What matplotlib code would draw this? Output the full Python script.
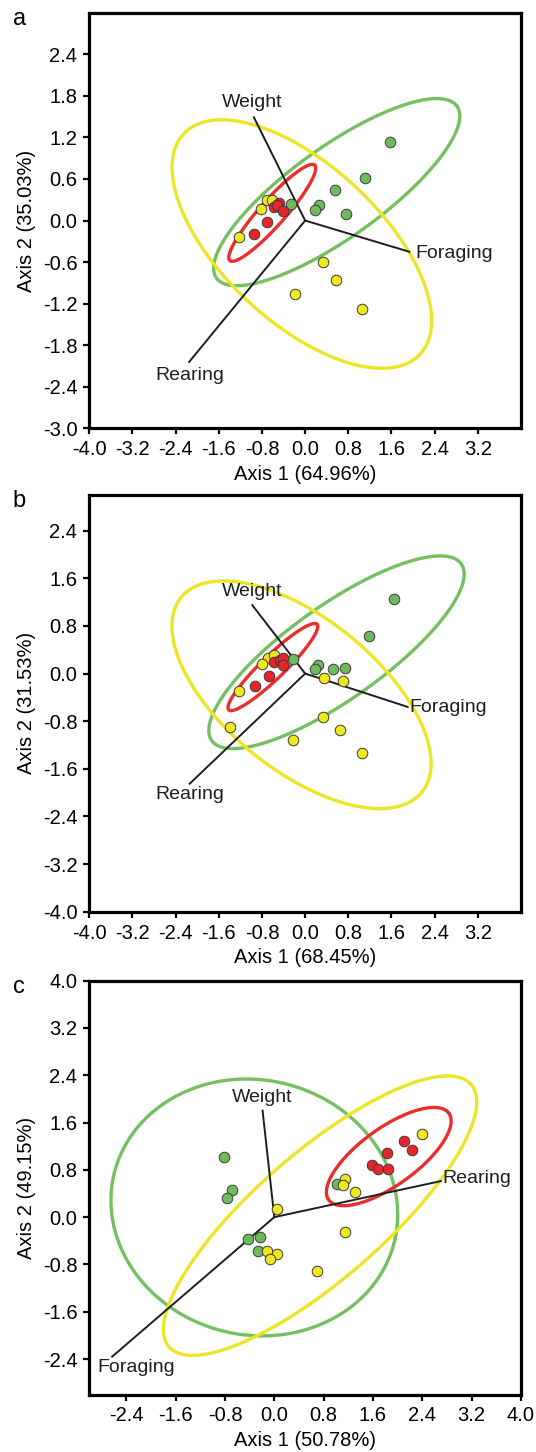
import numpy as np
import matplotlib.pyplot as plt

plt.rcParams['font.family'] = ['Liberation Sans', 'DejaVu Sans']

# ---- panel a ----
a_green_x = [1.57, 1.11, 0.56, 0.75, 0.25, 0.19, -0.26]
a_green_y = [1.14, 0.61, 0.44, 0.09, 0.22, 0.15, 0.24]
a_yellow_x = [-0.70, -0.62, -0.82, -1.23, 0.34, 0.58, -0.18, 1.06]
a_yellow_y = [0.29, 0.30, 0.16, -0.24, -0.60, -0.86, -1.06, -1.27]
a_red_x = [-0.49, -0.57, -0.53, -0.41, -0.71, -0.95]
a_red_y = [0.26, 0.19, 0.23, 0.14, -0.02, -0.19]
# ellipses: centre, major semi-axis vector, minor semi-axis vector
a_ell_green = [(0.585, 0.41), (2.228, 1.241), (-0.490, 0.532)]
a_ell_yellow = [(-0.061, -0.339), (2.191, -1.590), (0.993, 0.828)]
a_ell_red = [(-0.609, 0.111), (0.786, 0.688), (-0.175, 0.125)]
a_vectors = {'Weight': (-0.95, 1.49), 'Foraging': (1.93, -0.45), 'Rearing': (-2.15, -2.04)}
a_xlabel = 'Axis 1 (64.96%)'
a_ylabel = 'Axis 2 (35.03%)'

# ---- panel b ----
b_green_x = [1.65, 1.18, -0.22, 0.24, 0.19, 0.51, 0.73]
b_green_y = [1.25, 0.63, 0.24, 0.15, 0.07, 0.07, 0.10]
b_yellow_x = [-0.68, -0.58, -0.80, -1.23, -1.40, 0.35, 0.70, 0.34, 0.64, -0.22, 1.05]
b_yellow_y = [0.27, 0.31, 0.16, -0.29, -0.89, -0.08, -0.12, -0.73, -0.94, -1.11, -1.33]
b_red_x = [-0.57, -0.46, -0.41, -0.41, -0.67, -0.92]
b_red_y = [0.20, 0.23, 0.27, 0.14, -0.04, -0.21]
b_ell_green = [(0.581, 0.358), (2.312, 1.484), (-0.504, 0.645)]
b_ell_yellow = [(-0.067, -0.356), (2.232, -1.635), (0.886, 0.993)]
b_ell_red = [(-0.598, 0.109), (0.818, 0.718), (-0.150, 0.140)]
b_vectors = {'Weight': (-0.98, 1.15), 'Foraging': (1.90, -0.56), 'Rearing': (-2.14, -1.85)}
b_xlabel = 'Axis 1 (68.45%)'
b_ylabel = 'Axis 2 (31.53%)'

# ---- panel c ----
c_green_x = [-0.82, -0.68, -0.77, 1.02, -0.43, -0.24, -0.27]
c_green_y = [1.01, 0.46, 0.33, 0.56, -0.37, -0.33, -0.58]
c_yellow_x = [0.04, 1.15, 1.11, 1.31, 2.40, 1.15, -0.12, 0.05, -0.07, 0.69]
c_yellow_y = [0.14, 0.64, 0.55, 0.42, 1.40, -0.25, -0.57, -0.62, -0.70, -0.91]
c_red_x = [2.10, 2.24, 1.82, 1.58, 1.68, 1.84]
c_red_y = [1.28, 1.13, 1.09, 0.89, 0.81, 0.81]
c_ell_green = [(-0.324, 0.164), (2.279, -0.546), (0.460, 2.103)]
c_ell_yellow = [(0.742, 0.025), (2.449, 2.219), (-0.674, 0.814)]
c_ell_red = [(1.856, 1.025), (0.975, 0.733), (-0.270, 0.392)]
c_vectors = {'Weight': (-0.19, 1.80), 'Rearing': (2.70, 0.61), 'Foraging': (-2.63, -2.36)}
c_xlabel = 'Axis 1 (50.78%)'
c_ylabel = 'Axis 2 (49.15%)'

GREEN, YELLOW, RED = '#6dbb5b', '#f0e81e', '#e8252a'
ELL_GREEN, ELL_YELLOW, ELL_RED = '#74c060', '#ece526', '#ea2d2d'

panels = [
    dict(letter='a', rect=[0.1666, 0.7049, 0.8054, 0.2864],
         xlim=(-4.0, 4.0), ylim=(-3.0, 3.0),
         xticks=np.arange(-4.0, 3.3, 0.8), yticks=np.arange(-3.0, 2.5, 0.6),
         green=(a_green_x, a_green_y), yellow=(a_yellow_x, a_yellow_y), red=(a_red_x, a_red_y),
         ells=(a_ell_green, a_ell_yellow, a_ell_red), vectors=a_vectors,
         xlabel=a_xlabel, ylabel=a_ylabel,
         labelpos={'Weight': (-0.98, 1.70, 'center'), 'Foraging': (2.05, -0.48, 'left'),
                   'Rearing': (-2.13, -2.23, 'center')}),
    dict(letter='b', rect=[0.1666, 0.3721, 0.8054, 0.2870],
         xlim=(-4.0, 4.0), ylim=(-4.0, 3.0),
         xticks=np.arange(-4.0, 3.3, 0.8), yticks=np.arange(-4.0, 2.5, 0.8),
         green=(b_green_x, b_green_y), yellow=(b_yellow_x, b_yellow_y), red=(b_red_x, b_red_y),
         ells=(b_ell_green, b_ell_yellow, b_ell_red), vectors=b_vectors,
         xlabel=b_xlabel, ylabel=b_ylabel,
         labelpos={'Weight': (-0.98, 1.38, 'center'), 'Foraging': (1.94, -0.57, 'left'),
                   'Rearing': (-2.13, -2.03, 'center')}),
    dict(letter='c', rect=[0.1666, 0.0396, 0.8054, 0.2850],
         xlim=(-3.0, 4.0), ylim=(-3.0, 4.0),
         xticks=np.arange(-2.4, 4.1, 0.8), yticks=np.arange(-2.4, 4.1, 0.8),
         green=(c_green_x, c_green_y), yellow=(c_yellow_x, c_yellow_y), red=(c_red_x, c_red_y),
         ells=(c_ell_green, c_ell_yellow, c_ell_red), vectors=c_vectors,
         xlabel=c_xlabel, ylabel=c_ylabel,
         labelpos={'Weight': (-0.20, 2.03, 'center'), 'Rearing': (2.72, 0.65, 'left'),
                   'Foraging': (-2.87, -2.54, 'left')}),
]


def draw_ellipse(ax, params, color):
    (cx, cy), (ux, uy), (vx, vy) = params
    t = np.linspace(0, 2 * np.pi, 300)
    ax.plot(cx + ux * np.cos(t) + vx * np.sin(t),
            cy + uy * np.cos(t) + vy * np.sin(t),
            color=color, lw=2.4, zorder=2, solid_capstyle='round')


def fmt(v):
    v = round(v, 1)
    return f'{abs(v) if v == 0 else v:.1f}'


fig = plt.figure(figsize=(5.36, 14.52), dpi=100)

for p in panels:
    ax = fig.add_axes(p['rect'])
    for ell, col in zip(p['ells'], (ELL_GREEN, ELL_YELLOW, ELL_RED)):
        draw_ellipse(ax, ell, col)

    for name, (vx, vy) in p['vectors'].items():
        ax.plot([0, vx], [0, vy], color='#1e1e1e', lw=1.4, zorder=3)
        lx, ly, ha = p['labelpos'][name]
        ax.text(lx, ly, name, ha=ha, va='center', fontsize=14, color='#1e1e1e', zorder=5)

    for (xs, ys), col in zip((p['green'], p['yellow'], p['red']), (GREEN, YELLOW, RED)):
        ax.scatter(xs, ys, s=58, c=col, edgecolors='#3a3a3a', linewidths=0.7, zorder=4)

    ax.set_xlim(*p['xlim'])
    ax.set_ylim(*p['ylim'])
    ax.set_xticks(p['xticks'])
    ax.set_yticks(p['yticks'])
    ax.set_xticklabels([fmt(v) for v in p['xticks']])
    ax.set_yticklabels([fmt(v) for v in p['yticks']])
    ax.tick_params(direction='out', length=4.5, width=1.6, labelsize=14.5, pad=4)
    for s in ax.spines.values():
        s.set_linewidth(2.3)

    ax.set_xlabel(p['xlabel'], fontsize=14.5)
    ax.set_ylabel(p['ylabel'], fontsize=14.5)
    ax.xaxis.set_label_coords(0.5, -0.11)
    ax.xaxis.label.set_verticalalignment('center')
    ax.yaxis.set_label_coords(-0.145, 0.5)
    ax.yaxis.label.set_verticalalignment('center')

    ax.text(-0.162, 0.985, p['letter'], transform=ax.transAxes, fontsize=17,
            ha='center', va='center')

fig.savefig('out.png', dpi=100)
